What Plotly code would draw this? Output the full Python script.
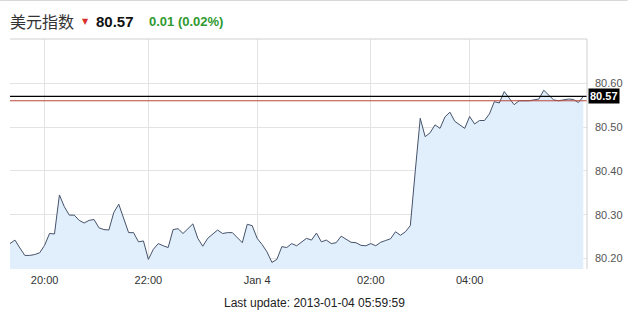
import plotly.graph_objects as go

# ---- data ----
times = [
    "19:25", "19:30", "19:35", "19:40", "19:45", "19:50", "19:55",
    "20:00", "20:05", "20:10", "20:15", "20:20", "20:25", "20:30", "20:40", "20:45", "20:50", "20:55",
    "21:00", "21:05", "21:10", "21:20", "21:25", "21:30", "21:35", "21:40", "21:50", "21:55",
    "22:00", "22:05", "22:10", "22:15", "22:20", "22:25", "22:30", "22:35", "22:40", "22:45", "22:55",
    "23:00", "23:05", "23:10", "23:15", "23:20", "23:25", "23:30", "23:35", "23:45", "23:50", "23:55",
    "00:00", "00:05", "00:10", "00:15", "00:20", "00:25", "00:30", "00:35", "00:40", "00:45", "00:50", "00:55",
    "01:00", "01:05", "01:10", "01:20", "01:25", "01:30", "01:35", "01:40", "01:45", "01:50", "01:55",
    "02:00", "02:05", "02:10", "02:15", "02:25", "02:30", "02:35", "02:40", "02:45", "02:55",
    "03:00", "03:05", "03:10", "03:15", "03:25", "03:30", "03:35", "03:45", "03:50", "03:55",
    "04:00", "04:05", "04:10", "04:15", "04:20", "04:25", "04:30", "04:35", "04:40", "04:45", "04:50", "04:55",
    "05:00", "05:05", "05:10", "05:15", "05:20", "05:25", "05:30", "05:35", "05:40", "05:45", "05:50", "05:59:59",
]

values = [
    80.234, 80.242, 80.224, 80.207, 80.207, 80.209, 80.213, 80.230, 80.257, 80.256,
    80.345, 80.318, 80.299, 80.299, 80.287, 80.281, 80.287, 80.289, 80.270, 80.266,
    80.265, 80.305, 80.324, 80.290, 80.259, 80.259, 80.238, 80.240, 80.198, 80.221,
    80.234, 80.229, 80.225, 80.266, 80.268, 80.257, 80.268, 80.279, 80.246, 80.228,
    80.246, 80.256, 80.265, 80.257, 80.259, 80.259, 80.248, 80.236, 80.278, 80.275,
    80.246, 80.232, 80.215, 80.191, 80.198, 80.227, 80.225, 80.234, 80.229, 80.237,
    80.246, 80.242, 80.258, 80.238, 80.242, 80.234, 80.236, 80.251, 80.244, 80.237,
    80.236, 80.230, 80.229, 80.234, 80.229, 80.237, 80.241, 80.245, 80.261, 80.253,
    80.261, 80.275, 80.400, 80.520, 80.478, 80.487, 80.505, 80.497, 80.523, 80.534,
    80.513, 80.505, 80.497, 80.524, 80.507, 80.515, 80.515, 80.530, 80.558, 80.555,
    80.581, 80.566, 80.551, 80.560, 80.560, 80.560, 80.562, 80.564, 80.584, 80.572,
    80.562, 80.560, 80.562, 80.564, 80.563, 80.556, 80.570,
]

prev_close = 80.56
last_value = values[-1]
change = 0.01
change_pct = 0.02

x_tick_vals = ["20:00", "22:00", "00:00", "02:00", "04:00"]
x_tick_text = ["20:00", "22:00", "Jan 4", "02:00", "04:00"]
y_tick_vals = [80.20, 80.30, 80.40, 80.50, 80.60]

title_name = "美元指数"
last_update = "Last update: 2013-01-04 05:59:59"

# ---- figure ----
W, H = 633, 314
ML, MR, MT, MB = 10, 41, 39, 45
PW, PH = W - ML - MR, H - MT - MB


def px_x(p):
    return (p - ML) / PW


def px_y(p):
    return (H - MB - p) / PH


fig = go.Figure()
fig.add_trace(go.Scatter(
    x=times, y=values, mode="lines",
    line=dict(color="#46526a", width=1),
    fill="tozeroy", fillcolor="#e0effb",
    hoverinfo="skip", showlegend=False,
))

fig.add_hline(y=prev_close, line=dict(color="#b9473d", width=1))
fig.add_hline(y=last_value, line=dict(color="#000000", width=1.4))

n = len(times)
fig.update_xaxes(
    type="category", range=[0, (n - 1) * PW / (578.3)],
    tickmode="array", tickvals=x_tick_vals, ticktext=x_tick_text,
    showgrid=True, gridcolor="#e3e3e3", gridwidth=1,
    showline=False, zeroline=False, ticks="", ticklabelstandoff=3,
    tickfont=dict(family="Liberation Sans, Arial", size=11, color="#333333"),
)
fig.update_yaxes(
    side="right", range=[80.176, 80.701],
    tickmode="array", tickvals=y_tick_vals, tickformat=".2f",
    showgrid=True, gridcolor="#e3e3e3", gridwidth=1,
    showline=False, zeroline=False, ticks="", ticklabelstandoff=7,
    tickfont=dict(family="Liberation Sans, Arial", size=11, color="#555555"),
)

anns = [
    dict(text=title_name, x=px_x(8), y=px_y(21), xanchor="left", yanchor="middle",
         font=dict(family="Noto Sans CJK SC", size=16, color="#333333")),
    dict(text="▼", x=px_x(81), y=px_y(22), xanchor="left", yanchor="middle",
         font=dict(family="DejaVu Sans", size=8, color="#d9302c")),
    dict(text="<b>%.2f</b>" % last_value, x=px_x(95), y=px_y(21), xanchor="left", yanchor="middle",
         font=dict(family="Liberation Sans, Arial", size=15, color="#111111")),
    dict(text="<b>%.2f (%.2f%%)</b>" % (change, change_pct), x=px_x(148), y=px_y(21),
         xanchor="left", yanchor="middle",
         font=dict(family="Liberation Sans, Arial", size=13, color="#2f9a2f")),
    dict(text=last_update, x=px_x(317), y=px_y(302.5), xanchor="center", yanchor="middle",
         font=dict(family="Liberation Sans, Arial", size=12, color="#222222")),
]
for a in anns:
    a.update(xref="paper", yref="paper", showarrow=False)
    fig.add_annotation(**a)

fig.add_annotation(
    text="<b>%.2f</b>" % last_value, xref="paper", yref="y", x=1, y=last_value,
    xanchor="left", yanchor="middle", xshift=1, showarrow=False,
    bgcolor="#000000", borderpad=1,
    font=dict(family="Liberation Sans, Arial", size=11, color="#ffffff"),
)

# frame lines
fig.add_shape(type="line", xref="paper", yref="paper", x0=0, x1=1, y0=1, y1=1,
              line=dict(color="#d0d0d0", width=1))
fig.add_shape(type="line", xref="paper", yref="paper", x0=1, x1=1, y0=0, y1=1,
              line=dict(color="#d0d0d0", width=1))
fig.add_shape(type="line", xref="paper", yref="paper", x0=px_x(0), x1=px_x(W), y0=px_y(0.5), y1=px_y(0.5),
              line=dict(color="#d8d8d8", width=1))

fig.update_layout(
    width=W, height=H,
    margin=dict(l=ML, r=MR, t=MT, b=MB),
    paper_bgcolor="#ffffff", plot_bgcolor="#ffffff",
    showlegend=False,
)

fig.write_html("out.html")
